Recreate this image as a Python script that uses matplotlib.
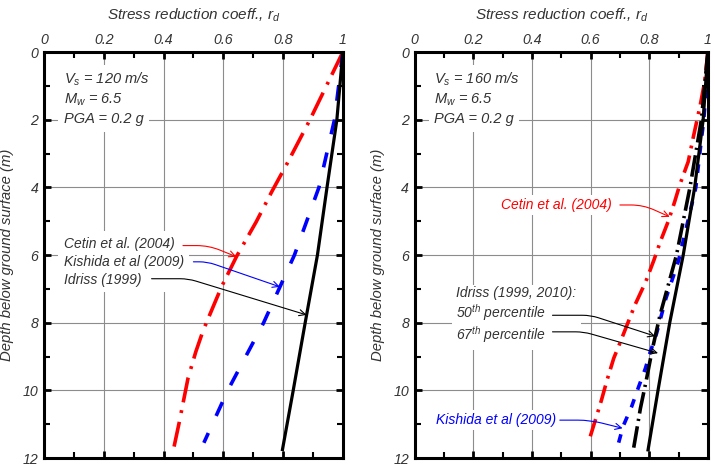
import numpy as np
import matplotlib
matplotlib.use("Agg")
import matplotlib.pyplot as plt
from matplotlib.ticker import MultipleLocator

plt.rcParams['font.family'] = ['Liberation Sans', 'DejaVu Sans']
plt.rcParams['font.style'] = 'italic'
plt.rcParams['mathtext.fontset'] = 'custom'
plt.rcParams['mathtext.it'] = 'Liberation Sans:italic'
plt.rcParams['mathtext.rm'] = 'Liberation Sans:italic'

# panel a: Vs = 120 m/s
depth_cetin_a = [0, 2, 3.27, 4.13, 5.02, 6.03, 6.94, 8.22, 8.86, 9.64, 10.97, 11.76]
cetin_a = [1.0, 0.89, 0.815, 0.762, 0.71, 0.645, 0.594, 0.533, 0.508, 0.482, 0.452, 0.433]
depth_kishida_a = [0, 2, 4, 6, 8, 10, 11.55]
kishida_a = [1.0, 0.972, 0.92, 0.838, 0.735, 0.615, 0.535]
depth_idriss_a = [0, 2, 4, 6, 8, 10, 11.75]
idriss_a = [1.0, 0.98, 0.947, 0.915, 0.874, 0.834, 0.798]

# panel b: Vs = 160 m/s
depth_cetin_b = [0, 0.88, 1.57, 2.53, 3.24, 3.93, 4.42, 5.0, 5.6, 6.15, 6.79, 7.48,
                 7.92, 8.56, 9.05, 9.7, 10.29, 10.83, 11.47]
cetin_b = [1.0, 0.989, 0.974, 0.95, 0.933, 0.904, 0.887, 0.865, 0.838, 0.816, 0.788,
           0.751, 0.731, 0.702, 0.679, 0.656, 0.637, 0.618, 0.595]
depth_kishida_b = [0, 0.74, 2, 4, 6.17, 6.79, 7.28, 8.32, 8.88, 9.35, 9.94, 10.48,
                   11.06, 11.6]
kishida_b = [1.0, 0.998, 0.986, 0.959, 0.9, 0.876, 0.857, 0.825, 0.803, 0.787, 0.762,
             0.74, 0.711, 0.694]
depth_idriss50_b = [0, 2, 4, 6, 7.77, 8.81, 9.7, 10.53, 11.8]
idriss50_b = [1.0, 0.978, 0.939, 0.893, 0.837, 0.81, 0.79, 0.77, 0.745]
depth_idriss67_b = [0, 2, 4, 6, 8, 10, 11.76]
idriss67_b = [1.0, 0.984, 0.955, 0.916, 0.87, 0.83, 0.796]

x_ticks = [0, 0.2, 0.4, 0.6, 0.8, 1]
x_labels = ['0', '0.2', '0.4', '0.6', '0.8', '1']
y_ticks = [0, 2, 4, 6, 8, 10, 12]

TXT = '#333333'
FS = 10


def setup_axes(ax, vs_text):
    ax.set_xlim(0, 1)
    ax.set_ylim(12, 0)
    ax.xaxis.tick_top()
    ax.xaxis.set_label_position('top')
    ax.set_xticks(x_ticks)
    ax.set_xticklabels(x_labels)
    ax.set_yticks(y_ticks)
    ax.xaxis.set_minor_locator(MultipleLocator(0.1))
    ax.yaxis.set_minor_locator(MultipleLocator(1))
    ax.tick_params(which='both', direction='in', top=True, bottom=True,
                   left=True, right=True, labelsize=10.2, pad=4, labelcolor=TXT)
    ax.tick_params(which='major', length=5, width=2)
    ax.tick_params(which='minor', length=4, width=1.5)
    for s in ax.spines.values():
        s.set_linewidth(2.2)
    ax.grid(True, which='major', color='#8c8c8c', lw=0.8)
    ax.set_axisbelow(True)
    ax.set_xlabel('Stress reduction coeff., $r_d$', fontsize=11, labelpad=9, color=TXT)
    ax.set_ylabel('Depth below ground surface (m)', fontsize=10.7, labelpad=6, color=TXT)
    box = dict(facecolor='white', edgecolor='none', pad=4)
    for txt, d in zip([vs_text, '$M_w$ = 6.5', 'PGA = 0.2 g'], [0.93, 1.52, 2.1]):
        ax.text(0.066, d, txt, fontsize=10.5, va='baseline', ha='left', color=TXT,
                bbox=box)


def arrow(ax, xy, xytext, color, angle_b, rad=8):
    ax.annotate('', xy=xy, xytext=xytext,
                arrowprops=dict(arrowstyle='->,head_length=0.45,head_width=0.22',
                                color=color, lw=0.8, shrinkA=0, shrinkB=0,
                                connectionstyle=f'angle,angleA=0,angleB={angle_b},rad={rad}'))


fig = plt.figure(figsize=(7.15, 4.65), dpi=100)
ax1 = fig.add_axes([0.0615, 0.015, 0.418, 0.873])
ax2 = fig.add_axes([0.580, 0.015, 0.41, 0.873])

# ---- left panel
setup_axes(ax1, '$V_s$ = 120 m/s')
ax1.plot(cetin_a, depth_cetin_a, color='red', lw=2.6, ls=(0, (7, 2.2, 0.8, 2.5)))
ax1.plot(kishida_a, depth_kishida_a, color='blue', lw=2.6, ls=(0, (4.2, 5.2)))
ax1.plot(idriss_a, depth_idriss_a, color='black', lw=2.3)

ax1.text(0.066, 6.2, 'Cetin et al. (2004)\nKishida et al (2009)\nIdriss (1999)',
         fontsize=FS, va='center', ha='left', linespacing=1.37, color=TXT,
         bbox=dict(facecolor='white', edgecolor='none', pad=4))
arrow(ax1, (np.interp(6.05, depth_cetin_a, cetin_a), 6.05), (0.465, 5.72), 'red', -22, 12)
arrow(ax1, (np.interp(6.94, depth_kishida_a, kishida_a), 6.94), (0.50, 6.2), 'blue', -19)
arrow(ax1, (np.interp(7.77, depth_idriss_a, idriss_a), 7.77), (0.36, 6.7), 'black', -17)

# ---- right panel
setup_axes(ax2, '$V_s$ = 160 m/s')
ax2.plot(cetin_b, depth_cetin_b, color='red', lw=2.6, ls=(0, (5, 1.9, 0.8, 2)))
ax2.plot(kishida_b, depth_kishida_b, color='blue', lw=2.6, ls=(0, (2.4, 2.8)))
ax2.plot(idriss50_b, depth_idriss50_b, color='black', lw=2.6, ls=(0, (6, 1.5, 0.6, 1.5)))
ax2.plot(idriss67_b, depth_idriss67_b, color='black', lw=2.3)

ax2.text(0.296, 4.52, 'Cetin et al. (2004)', fontsize=FS, color='red',
         va='center', ha='left', bbox=dict(facecolor='white', edgecolor='none', pad=2))
arrow(ax2, (np.interp(4.87, depth_cetin_b, cetin_b), 4.87), (0.70, 4.52), 'red', -24, 12)

ax2.text(0.142, 7.8, 'Idriss (1999, 2010):\n50$^{th}$ percentile\n67$^{th}$ percentile',
         fontsize=FS, va='center', ha='left', linespacing=1.1, color=TXT,
         bbox=dict(facecolor='white', edgecolor='none', pad=3))
arrow(ax2, (np.interp(8.4, depth_idriss50_b, idriss50_b), 8.4), (0.47, 7.78), 'black', -18)
arrow(ax2, (0.83, 8.9), (0.47, 8.27), 'black', -16)

ax2.text(0.074, 10.88, 'Kishida et al (2009)', fontsize=FS, color='blue',
         va='center', ha='left', bbox=dict(facecolor='white', edgecolor='none', pad=2))
arrow(ax2, (np.interp(11.12, depth_kishida_b, kishida_b), 11.12), (0.495, 10.88),
      'blue', -14, 12)

fig.savefig('out.png', dpi=100)
